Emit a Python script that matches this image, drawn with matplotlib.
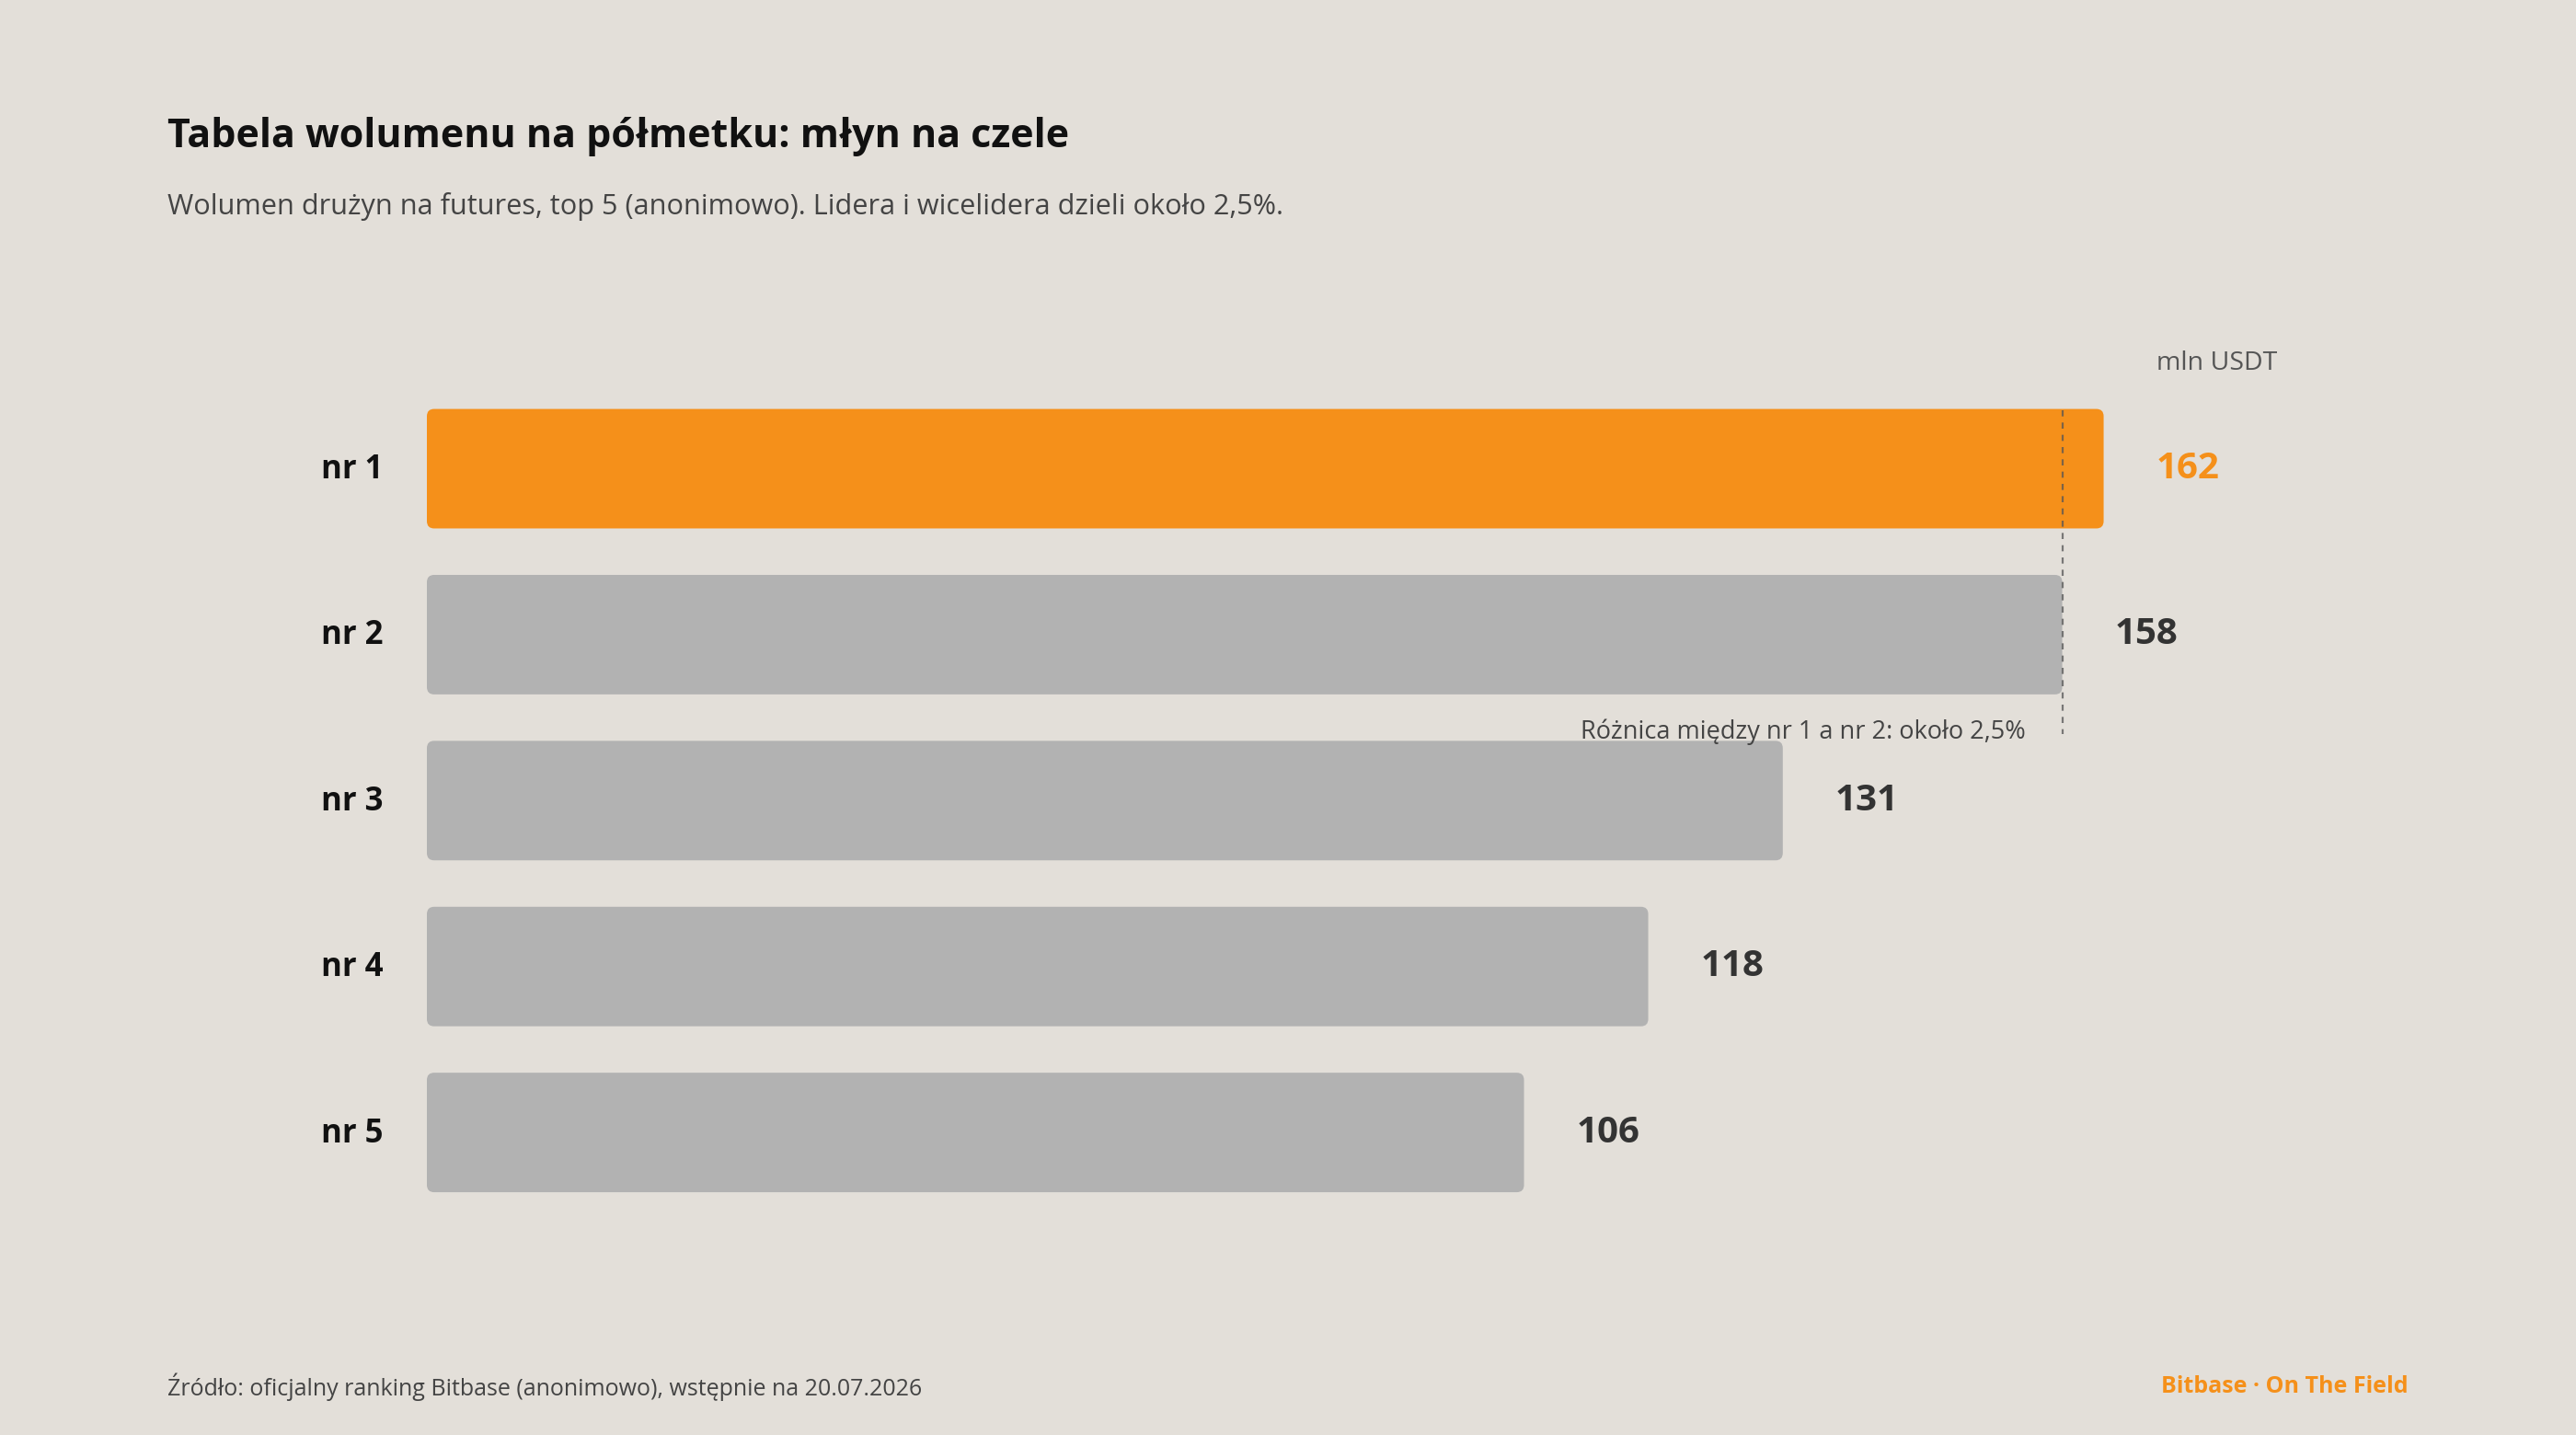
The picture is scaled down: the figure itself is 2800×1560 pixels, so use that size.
import matplotlib
matplotlib.use("Agg")
import matplotlib.pyplot as plt
import matplotlib.transforms as mtransforms
from matplotlib.patches import FancyBboxPatch

# data
teams = ["nr 1", "nr 2", "nr 3", "nr 4", "nr 5"]
volume = [162, 158, 131, 118, 106]
value_labels = ["162", "158", "131", "118", "106"]

bg = "#E3DFD9"
orange = "#F5901A"
grey = "#B2B2B2"

plt.rcParams["font.family"] = ["Open Sans", "DejaVu Sans"]

fig = plt.figure(figsize=(28, 15.6), dpi=100, facecolor=bg)
ax = fig.add_axes([464 / 2800, 0.1530, 0.8036, 0.5782])
ax.set_facecolor(bg)
ax.set_xlim(0, 200)
ax.set_ylim(4.5, -0.5)

bar_h = 0.72
for i, v in enumerate(volume):
    col = orange if i == 0 else grey
    p = FancyBboxPatch((0, i - bar_h / 2), v, bar_h,
                       boxstyle="round,pad=0,rounding_size=0.7",
                       mutation_aspect=0.063, fc=col, ec="none", zorder=2)
    ax.add_patch(p)
    ax.annotate(value_labels[i], (v, i), xytext=(41, 0), textcoords="offset points",
                va="center", ha="left", fontsize=29, fontweight="bold",
                color=orange if i == 0 else "#333333")

# gap marker between nr 1 and nr 2
ax.plot([volume[1], volume[1]], [-0.35, 1.6], ls=(0, (3, 3)), lw=1.6,
        color="#555555", alpha=0.75, zorder=3)
ax.text(154.5, 1.585, "Różnica między nr 1 a nr 2: około 2,5%", ha="right",
        va="center", fontsize=19.5, color="#444444", zorder=4)

ax.set_yticks(range(len(teams)))
ax.set_yticklabels(teams, fontsize=25, fontweight="bold", color="#111111")
ax.tick_params(axis="y", length=0, pad=34)
shift = mtransforms.ScaledTranslation(0, 3 / 100, fig.dpi_scale_trans)
for lab in ax.get_yticklabels():
    lab.set_transform(lab.get_transform() + shift)
ax.set_xticks([])
for s in ax.spines.values():
    s.set_visible(False)

fig.text(2344 / 2800, 1 - 395 / 1560, "mln USDT", fontsize=20.5, color="#555555",
         ha="left", va="center")
fig.text(182 / 2800, 1 - 148 / 1560, "Tabela wolumenu na półmetku: młyn na czele",
         fontsize=31, fontweight="bold", color="#111111", ha="left", va="center")
fig.text(182 / 2800, 1 - 225 / 1560,
         "Wolumen drużyn na futures, top 5 (anonimowo). Lidera i wicelidera dzieli około 2,5%.",
         fontsize=22.1, color="#444444", ha="left", va="center")
fig.text(182 / 2800, 1 - 1508 / 1560,
         "Źródło: oficjalny ranking Bitbase (anonimowo), wstępnie na 20.07.2026",
         fontsize=18, color="#444444", ha="left", va="center")
fig.text(2618 / 2800, 1 - 1508 / 1560, "Bitbase · On The Field", fontsize=18,
         fontweight="bold", color=orange, ha="right", va="center")

fig.savefig("out.png", dpi=100, facecolor=bg)
